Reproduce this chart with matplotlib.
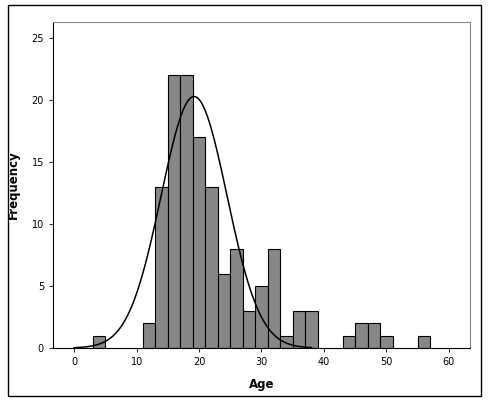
import numpy as np
import matplotlib
matplotlib.use("Agg")
import matplotlib.pyplot as plt
from matplotlib.patches import Rectangle

bin_left = [3, 11, 13, 15, 17, 19, 21, 23, 25, 27, 29, 31, 33, 35, 37, 43, 45, 47, 49, 55]
counts = [1, 2, 13, 22, 22, 17, 13, 6, 8, 3, 5, 8, 1, 3, 3, 1, 2, 2, 1, 1]
bin_width = 2
curve_mean = 19.2
curve_sd = 5.27
n_total = sum(counts)

W, H = 489, 404
fig = plt.figure(figsize=(W/100, H/100), dpi=100)
fig.patches.append(Rectangle((8/W, 1-396/H), 473/W, 391/H, transform=fig.transFigure,
                             fill=False, edgecolor='black', lw=1))
ax = fig.add_axes([53/W, 1-348/H, 417/W, 326/H])
ax.bar(bin_left, counts, width=bin_width, align='edge', color='#878787',
       edgecolor='black', linewidth=0.8)
x = np.linspace(0, 38, 400)
y = n_total*bin_width/(curve_sd*np.sqrt(2*np.pi))*np.exp(-0.5*((x-curve_mean)/curve_sd)**2)
ax.plot(x, y, color='black', lw=1.1)
ax.set_xlim(-3.4, 63.4)
ax.set_ylim(0, 26.3)
ax.set_xticks(range(0, 61, 10))
ax.set_yticks(range(0, 26, 5))
ax.tick_params(labelsize=7, length=3, width=0.8, colors='#333333', labelcolor='black')
for s in ['top', 'right']:
    ax.spines[s].set_color('#888888')
ax.set_xlabel('Age', fontsize=8.5, fontweight='bold', labelpad=8)
ax.set_ylabel('Frequency', fontsize=8.5, fontweight='bold', labelpad=8)
fig.savefig('out.png', dpi=100)
